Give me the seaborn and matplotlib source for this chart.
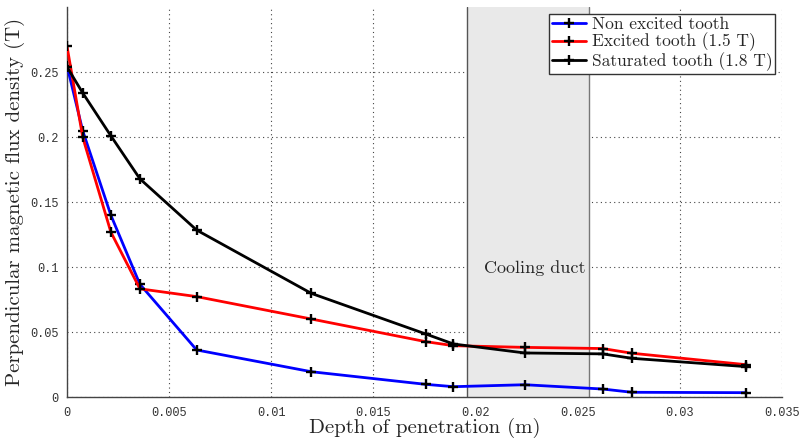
import numpy as np
import pandas as pd
import matplotlib
matplotlib.use("Agg")
import matplotlib.pyplot as plt
import seaborn as sns

# ---- data ----
depth = [0.0, 0.00077, 0.00215, 0.00357, 0.00635, 0.01196, 0.01756, 0.01892,
         0.02241, 0.02623, 0.02765, 0.03325]
non_excited = [0.255, 0.205, 0.140, 0.087, 0.0365, 0.0198, 0.0101, 0.0083,
               0.0098, 0.0065, 0.0040, 0.0037]
excited = [0.270, 0.200, 0.127, 0.0835, 0.0775, 0.0603, 0.0429, 0.0398,
           0.0385, 0.0376, 0.0340, 0.0252]
saturated = [0.254, 0.234, 0.201, 0.168, 0.1286, 0.0800, 0.0488, 0.0411,
             0.0342, 0.0335, 0.0301, 0.0237]
series_names = ["Non excited tooth", "Excited tooth (1.5 T)", "Saturated tooth (1.8 T)"]
series_colors = ["#0000ff", "#ff0000", "#000000"]
duct_start, duct_end = 0.0196, 0.02555
duct_label = "Cooling duct"
x_ticks = [0, 0.005, 0.01, 0.015, 0.02, 0.025, 0.03, 0.035]
x_ticklabels = ["0", "0.005", "0.01", "0.015", "0.02", "0.025", "0.03", "0.035"]
y_ticks = [0, 0.05, 0.1, 0.15, 0.2, 0.25]
y_ticklabels = ["0", "0.05", "0.1", "0.15", "0.2", "0.25"]

df = pd.DataFrame({
    "depth": depth * 3,
    "B": non_excited + excited + saturated,
    "series": [series_names[0]] * len(depth) + [series_names[1]] * len(depth)
              + [series_names[2]] * len(depth),
})

sns.set_style("white")
plt.rcParams["font.family"] = ["cmr10", "DejaVu Serif"]
plt.rcParams["axes.formatter.use_mathtext"] = True

fig = plt.figure(figsize=(8.02, 4.38), dpi=100)
ax = fig.add_axes([0.0835, 0.0925, 0.8915, 0.8915])

sns.lineplot(data=df, x="depth", y="B", hue="series", hue_order=series_names,
             palette=series_colors, marker="+", markersize=7.5,
             markeredgecolor="black", markeredgewidth=1.7, linewidth=2.0,
             legend=False, ax=ax, zorder=3, sort=False)

handles = list(ax.lines[:3])

ax.axvspan(duct_start, duct_end, facecolor="#e9e9e9", edgecolor="none", zorder=1)
ax.axvline(duct_start, color="#555555", lw=1.0, zorder=1.5)
ax.axvline(duct_end, color="#777777", lw=1.0, zorder=1.5)
ax.text(duct_start + 0.0008, 0.0958, duct_label, fontsize=13,
        va="baseline", ha="left", zorder=2)

ax.set_xlim(0, 0.035)
ax.set_ylim(0, 0.3)
ax.set_xticks(x_ticks)
ax.set_xticklabels(x_ticklabels)
ax.set_yticks(y_ticks)
ax.set_yticklabels(y_ticklabels)
for lab in ax.get_xticklabels() + ax.get_yticklabels():
    lab.set_fontfamily("Liberation Mono")
    lab.set_fontsize(8.6)
    lab.set_color("#333333")
ax.tick_params(direction="in", length=4, width=0.8, color="#444444", pad=6)
ax.tick_params(axis="x", pad=7)

ax.set_axisbelow(True)
ax.grid(True, linestyle=(0, (1, 3)), color="#444444", linewidth=0.8)

for s in ["top", "right"]:
    ax.spines[s].set_visible(False)
for s in ["left", "bottom"]:
    ax.spines[s].set_color("#444444")
    ax.spines[s].set_linewidth(1.0)

ax.set_xlabel("Depth of penetration (m)", fontsize=15, labelpad=-1)
ax.set_ylabel("Perpendicular magnetic flux density (T)", fontsize=15, labelpad=4)

leg = ax.legend(handles=handles, labels=series_names, loc="upper right",
                fontsize=12.5, frameon=True, fancybox=False, framealpha=1,
                edgecolor="#333333", borderpad=0.15, labelspacing=0.05,
                handlelength=2.0, handletextpad=0.3, borderaxespad=0.4,
                numpoints=1)
leg.get_frame().set_linewidth(1.0)

fig.savefig("out.png", dpi=100)
